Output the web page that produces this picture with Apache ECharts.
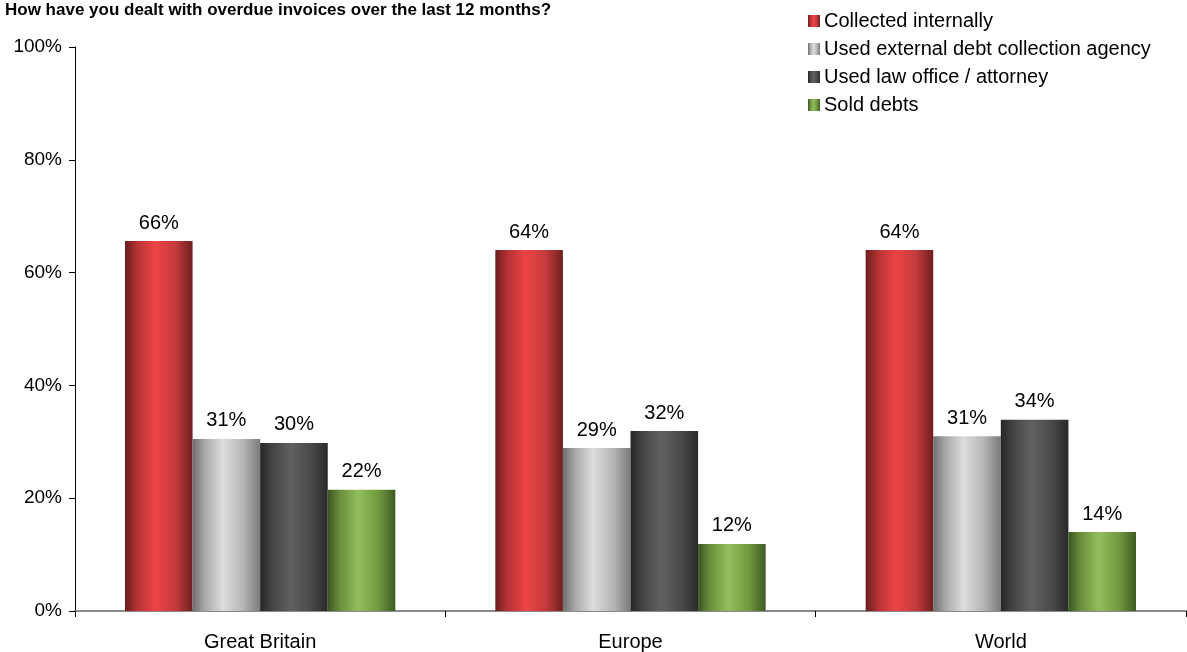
<!DOCTYPE html>
<html>
<head>
<meta charset="utf-8">
<script src="https://cdn.jsdelivr.net/npm/echarts@6/dist/echarts.min.js"></script>
<style>
html,body{margin:0;padding:0;background:#fff;}
#chart{width:1187px;height:652px;}
</style>
</head>
<body>
<div id="chart"></div>
<script>
const title = 'How have you dealt with overdue invoices over the last 12 months?';
const categories = ['Great Britain', 'Europe', 'World'];
const seriesNames = ['Collected internally', 'Used external debt collection agency', 'Used law office / attorney', 'Sold debts'];
const collectedInternally = [65.6, 64.0, 64.0];
const externalAgency = [30.5, 28.9, 31.0];
const lawOffice = [29.8, 31.9, 33.9];
const soldDebts = [21.5, 11.9, 14.0];
const yTicks = [0, 20, 40, 60, 80, 100];

function grad(edgeL, mid1, peak, mid2, edgeR) {
  return new echarts.graphic.LinearGradient(0, 0, 1, 0, [
    {offset: 0, color: edgeL},
    {offset: 0.18, color: mid1},
    {offset: 0.45, color: peak},
    {offset: 0.75, color: mid2},
    {offset: 1, color: edgeR}
  ]);
}
const fills = [
  grad('#6a1c1c', '#b53335', '#ed4446', '#c43a3c', '#6e1f1f'),
  grad('#6e6e6e', '#a8a8a8', '#dddddd', '#b5b5b5', '#7a7a7a'),
  grad('#262626', '#444444', '#616161', '#4a4a4a', '#2a2a2a'),
  grad('#3c5420', '#6a8f3c', '#92bf5c', '#71993f', '#3e5a22')
];
const values = [collectedInternally, externalAgency, lawOffice, soldDebts];

const chart = echarts.init(document.getElementById('chart'), null, {renderer: 'canvas'});
const font = 'Liberation Sans, Arial, sans-serif';
chart.setOption({
  animation: false,
  backgroundColor: '#ffffff',
  title: {
    text: title,
    left: 5, top: 2, padding: 0,
    textStyle: {fontFamily: font, fontWeight: 'bold', fontSize: 17, color: '#000', lineHeight: 17}
  },
  legend: {
    orient: 'vertical',
    left: 803, top: 6,
    itemWidth: 12, itemHeight: 12, itemGap: 8,
    icon: 'rect',
    textStyle: {fontFamily: font, fontSize: 20, color: '#000', lineHeight: 20, padding: [0, 0, 0, -1]},
    data: seriesNames
  },
  grid: {left: 75, right: 1, top: 47, bottom: 41, containLabel: false},
  xAxis: {
    type: 'category',
    data: categories,
    axisLine: {lineStyle: {color: '#8a8a8a', width: 2}},
    axisTick: {show: true, alignWithLabel: false, length: 6, lineStyle: {color: '#000', width: 1}},
    axisLabel: {fontFamily: font, fontSize: 20, color: '#000', margin: 21},
    splitLine: {show: false}
  },
  yAxis: {
    type: 'value',
    min: 0, max: 100, interval: 20,
    axisLine: {show: true, lineStyle: {color: '#000', width: 1}},
    axisTick: {show: true, length: 6, lineStyle: {color: '#000'}},
    axisLabel: {fontFamily: font, fontSize: 19, color: '#000', margin: 13,
      formatter: v => yTicks.includes(v) ? v + '%' : ''},
    splitLine: {show: false}
  },
  series: seriesNames.map((name, i) => ({
    name: name,
    type: 'bar',
    data: values[i],
    barGap: '0%',
    barCategoryGap: '27%',
    itemStyle: {color: fills[i]},
    label: {
      show: true, position: 'top', distance: 8,
      fontFamily: font, fontSize: 20, color: '#000',
      formatter: p => Math.round(p.value) + '%'
    }
  }))
});
</script>
</body>
</html>
